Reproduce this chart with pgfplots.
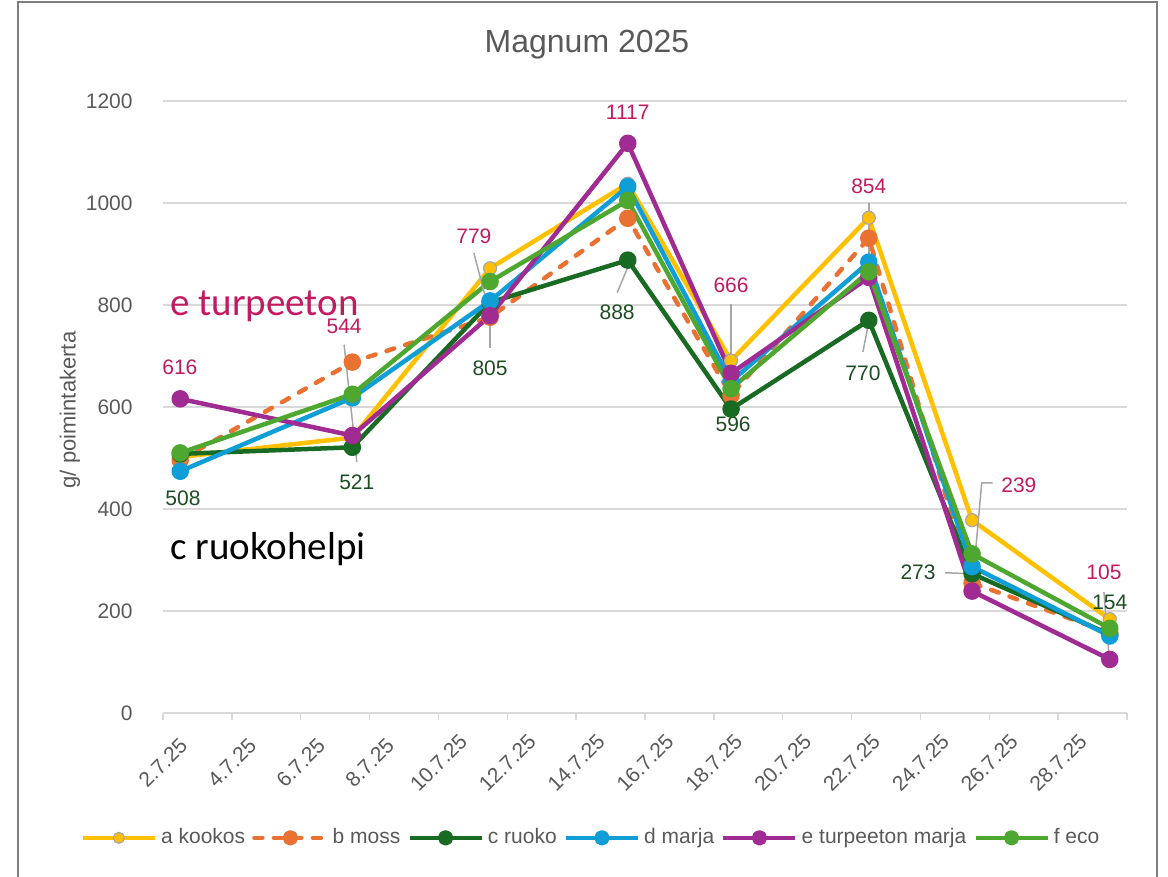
\documentclass[border=0pt]{standalone}
\usepackage{pgfplots}
\pgfplotsset{compat=1.18}
\usepackage{fontspec}
\setmainfont{Liberation Sans}
\newfontfamily\carlito{Carlito}
\definecolor{ca}{HTML}{FFC000}
\definecolor{cb}{HTML}{E97132}
\definecolor{cc}{HTML}{196B24}
\definecolor{cd}{HTML}{0F9ED5}
\definecolor{ce}{HTML}{A02B93}
\definecolor{cf}{HTML}{4EA72E}
\definecolor{lblpink}{HTML}{C21A60}
\definecolor{lblgreen}{HTML}{1D4D22}
\definecolor{txtgray}{HTML}{595959}
\definecolor{gridgray}{HTML}{D9D9D9}
\definecolor{leadgray}{HTML}{A6A6A6}
\definecolor{framegray}{HTML}{7F7F7F}
\newcommand\lbl{\fontsize{10.5}{12}\selectfont}
\begin{document}
\begin{tikzpicture}
\useasboundingbox (0,0) rectangle (584pt,438.5pt);
\draw[framegray, line width=1pt] (9pt,-2pt) -- (9pt,437.5pt) -- (578.5pt,437.5pt) -- (578.5pt,-2pt);
\node[txtgray, font=\fontsize{16}{19}\selectfont] at (293.5pt,416pt) {Magnum 2025};
\node[txtgray, font=\fontsize{11}{13}\selectfont, rotate=90] at (35pt,233.5pt) {g/ poimintakerta};
\begin{axis}[
  at={(81.5pt,82pt)}, anchor=south west,
  scale only axis, width=482pt, height=306pt,
  xmin=2, xmax=30, ymin=0, ymax=1200,
  clip=false,
  axis x line*=bottom, axis y line*=left,
  y axis line style={draw=none},
  x axis line style={draw=gridgray, line width=0.75pt},
  xtick={2,4,...,30},
  xticklabels={2.7.25,4.7.25,6.7.25,8.7.25,10.7.25,12.7.25,14.7.25,16.7.25,18.7.25,20.7.25,22.7.25,24.7.25,26.7.25,28.7.25,{}},
  ytick={0,200,...,1200},
  tick align=outside,
  major tick length=3.5pt,
  xtick style={draw=gridgray, line width=0.75pt},
  ytick style={draw=none},
  ymajorgrids,
  grid style={gridgray, line width=0.75pt},
  ticklabel style={text=txtgray, font=\lbl},
  yticklabel style={anchor=east, inner sep=0pt, xshift=-11.5pt},
  xticklabel style={anchor=center, inner sep=0pt, xshift=0pt, yshift=-21.5pt, rotate=45},
  /pgf/number format/assume math mode=true,
  /pgf/number format/1000 sep={},
  legend style={at={(0.445,-0.204)}, anchor=center, draw=none, fill=none,
    font=\lbl, text=txtgray, legend columns=6,
    /tikz/every even column/.append style={column sep=1.5pt}},
  legend cell align=left,
  legend image code/.code={\draw[mark repeat=2,mark phase=2,#1,mark size=2.75pt] plot coordinates {(0pt,0pt) (18pt,0pt) (36pt,0pt)};},
  every axis plot/.append style={line width=2.25pt, line join=round, mark=*, mark size=3.25pt},
]
\addplot[ca, mark options={fill=ca, draw=leadgray, line width=0.6pt}] coordinates {
(2.5,502) (7.5,540) (11.5,872) (15.5,1038) (18.5,691) (22.5,971) (25.5,378) (29.5,184)};
\addlegendentry{a kookos}
\addplot[cb, dash pattern=on 4pt off 5.75pt, line cap=round, mark options={solid, fill=cb, draw=cb}] coordinates {
(2.5,496) (7.5,688) (11.5,776) (15.5,970) (18.5,623) (22.5,931) (25.5,255) (29.5,157)};
\addlegendentry{b moss}
\addplot[cc, mark options={fill=cc, draw=cc}] coordinates {
(2.5,508) (7.5,521) (11.5,805) (15.5,888) (18.5,596) (22.5,770) (25.5,273) (29.5,154)};
\addlegendentry{c ruoko}
\addplot[cd, mark options={fill=cd, draw=cd}] coordinates {
(2.5,474) (7.5,618) (11.5,808) (15.5,1032) (18.5,650) (22.5,884) (25.5,287) (29.5,151)};
\addlegendentry{d marja}
\addplot[ce, mark options={fill=ce, draw=ce}] coordinates {
(2.5,616) (7.5,544) (11.5,779) (15.5,1117) (18.5,666) (22.5,854) (25.5,239) (29.5,105)};
\addlegendentry{e turpeeton marja}
\addplot[cf, mark options={fill=cf, draw=cf}] coordinates {
(2.5,510) (7.5,625) (11.5,846) (15.5,1005) (18.5,636) (22.5,865) (25.5,312) (29.5,166)};
\addlegendentry{f eco}
% leader lines
\draw[leadgray, line width=0.75pt] (axis cs:2.55,510) -- (axis cs:2.55,461);
\draw[leadgray, line width=0.75pt] (axis cs:7.26,722) -- (axis cs:7.63,492);
\draw[leadgray, line width=0.75pt] (axis cs:11.03,902) -- (axis cs:11.5,780);
\draw[leadgray, line width=0.75pt] (axis cs:11.5,804) -- (axis cs:11.5,716);
\draw[leadgray, line width=0.75pt] (axis cs:15.5,874) -- (axis cs:15.19,824);
\draw[leadgray, line width=0.75pt] (axis cs:18.5,802) -- (axis cs:18.5,669);
\draw[leadgray, line width=0.75pt] (axis cs:22.5,1000) -- (axis cs:22.5,855);
\draw[leadgray, line width=0.75pt] (axis cs:22.5,767) -- (axis cs:22.33,708);
\draw[leadgray, line width=0.75pt] (axis cs:26.1,451) -- (axis cs:25.78,451) -- (axis cs:25.5,241);
\draw[leadgray, line width=0.75pt] (axis cs:24.71,275) -- (axis cs:25.5,273);
\draw[leadgray, line width=0.75pt] (axis cs:29.33,237) -- (axis cs:29.48,110);
% labels e
\node[lblpink, font=\lbl] at (axis cs:2.49,678) {616};
\node[lblpink, font=\lbl] at (axis cs:7.26,759) {544};
\node[lblpink, font=\lbl] at (axis cs:11.03,935) {779};
\node[lblpink, font=\lbl] at (axis cs:15.5,1178) {1117};
\node[lblpink, font=\lbl] at (axis cs:18.5,839) {666};
\node[lblpink, font=\lbl] at (axis cs:22.5,1033) {854};
\node[lblpink, font=\lbl] at (axis cs:26.86,447) {239};
\node[lblpink, font=\lbl] at (axis cs:29.33,275) {105};
% labels c
\node[lblgreen, font=\lbl] at (axis cs:2.58,422) {508};
\node[lblgreen, font=\lbl] at (axis cs:7.63,453) {521};
\node[lblgreen, font=\lbl] at (axis cs:11.5,676) {805};
\node[lblgreen, font=\lbl] at (axis cs:15.19,786) {888};
\node[lblgreen, font=\lbl] at (axis cs:18.56,567) {596};
\node[lblgreen, font=\lbl] at (axis cs:22.33,667) {770};
\node[lblgreen, font=\lbl] at (axis cs:23.93,275) {273};
\node[lblgreen, font=\lbl] at (axis cs:29.5,216) {154};
\end{axis}
\node[lblpink, font=\carlito\fontsize{19.5}{22}\selectfont, anchor=base west, inner sep=0pt] at (85pt,280.5pt) {e turpeeton};
\node[black, font=\carlito\fontsize{19.5}{22}\selectfont, anchor=base west, inner sep=0pt] at (85pt,158.5pt) {c ruokohelpi};
\end{tikzpicture}
\end{document}
